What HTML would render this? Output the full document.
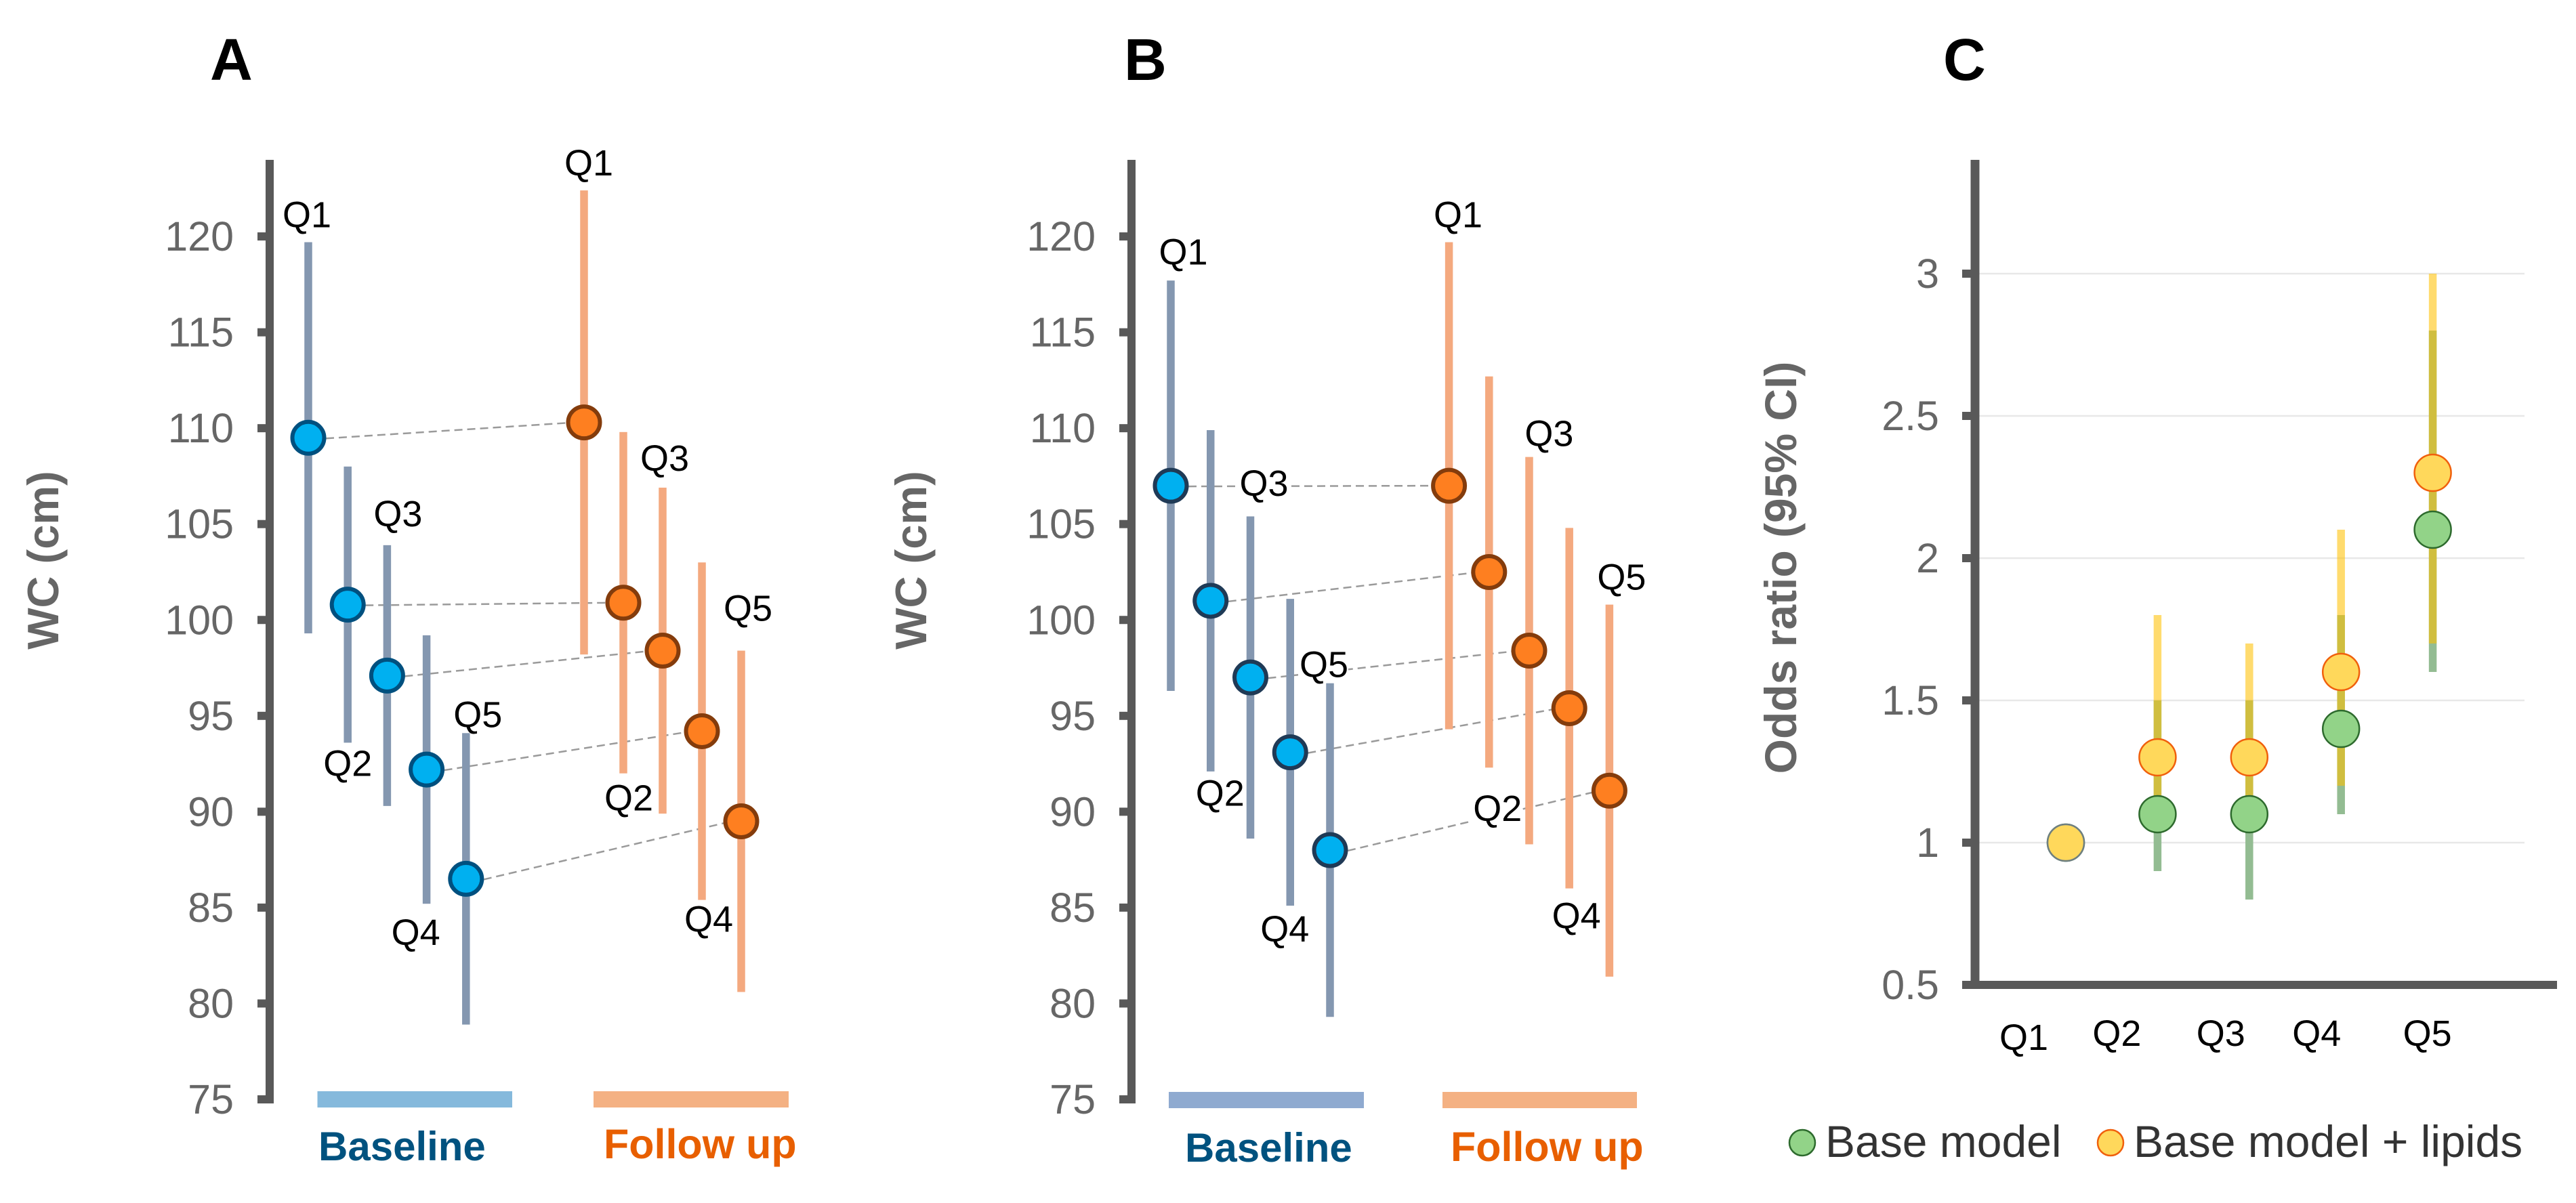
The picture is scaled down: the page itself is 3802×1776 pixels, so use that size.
<!DOCTYPE html>
<html lang="en">
<head>
<meta charset="utf-8">
<title>WC and odds ratio panels</title>
<style>
html,body{margin:0;padding:0;background:#fff;}
svg{display:block;font-family:"Liberation Sans",Arial,sans-serif;}
</style>
</head>
<body>
<svg id="figure" xmlns="http://www.w3.org/2000/svg" width="3802" height="1776" viewBox="0 0 3802 1776">
  <rect x="0" y="0" width="3802" height="1776" fill="#fff"/>

  <text x="310" y="118" font-size="87" font-weight="700" fill="#000">A</text>
  <text x="1659" y="118" font-size="87" font-weight="700" fill="#000">B</text>
  <text x="2868" y="118" font-size="87" font-weight="700" fill="#000">C</text>

  <text transform="translate(86 827) rotate(-90)" text-anchor="middle" font-size="65" font-weight="700" fill="#666">WC (cm)</text>
  <text transform="translate(1367 827) rotate(-90)" text-anchor="middle" font-size="65" font-weight="700" fill="#666">WC (cm)</text>
  <text transform="translate(2651 838) rotate(-90)" text-anchor="middle" font-size="66" font-weight="700" fill="#666">Odds ratio (95% CI)</text>

  <g id="panel-a"></g>
  <g id="panel-b"></g>
  <g id="panel-c"></g>

  <rect x="468.5" y="1611" width="287.5" height="24" fill="#85B9DC"/>
  <rect x="876" y="1611" width="288" height="24" fill="#F4B183"/>
  <text x="470" y="1713" font-size="60" font-weight="700" fill="#00527F">Baseline</text>
  <text x="891" y="1710" font-size="61" font-weight="700" fill="#E85F00">Follow up</text>

  <rect x="1725" y="1612" width="288" height="24" fill="#8FAAD0"/>
  <rect x="2129" y="1612" width="287" height="24" fill="#F4B183"/>
  <text x="1749" y="1715" font-size="60" font-weight="700" fill="#00527F">Baseline</text>
  <text x="2141" y="1714" font-size="61" font-weight="700" fill="#E85F00">Follow up</text>

  <g>
    <circle cx="2660" cy="1687" r="19" fill="#92D388" stroke="#2D6A2D" stroke-width="2.5"/>
    <text x="2694" y="1708" font-size="66" fill="#333">Base model</text>
    <circle cx="3115" cy="1687" r="19" fill="#FFD85B" stroke="#F0600C" stroke-width="2.5"/>
    <text x="3149" y="1708" font-size="66" fill="#333">Base model + lipids</text>
  </g>
</svg>

<script>
// ---- Shared category and tick values ----
const quintiles = ['Q1', 'Q2', 'Q3', 'Q4', 'Q5'];
const wcTicks = [75, 80, 85, 90, 95, 100, 105, 110, 115, 120];
const orTicks = [0.5, 1, 1.5, 2, 2.5, 3];
const orTickLabels = ['0.5', '1', '1.5', '2', '2.5', '3'];

// ---- Panel A values (WC, cm) ----
const aBaseMean = [109.5, 100.8, 97.1, 92.2, 86.5];
const aBaseLow = [99.3, 93.6, 90.3, 85.2, 78.9];
const aBaseHigh = [119.7, 108.0, 103.9, 99.2, 94.1];
const aFollowMean = [110.3, 100.9, 98.4, 94.2, 89.5];
const aFollowLow = [98.2, 92.0, 89.9, 85.4, 80.6];
const aFollowHigh = [122.4, 109.8, 106.9, 103.0, 98.4];

// ---- Panel B values (WC, cm) ----
const bBaseMean = [107.0, 101.0, 97.0, 93.1, 88.0];
const bBaseLow = [96.3, 92.1, 88.6, 85.1, 79.3];
const bBaseHigh = [117.7, 109.9, 105.4, 101.1, 96.7];
const bFollowMean = [107.0, 102.5, 98.4, 95.4, 91.1];
const bFollowLow = [94.3, 92.3, 88.3, 86.0, 81.4];
const bFollowHigh = [119.7, 112.7, 108.5, 104.8, 100.8];

// ---- Panel C values (odds ratio) ----
const cBaseOr = [1, 1.1, 1.1, 1.4, 2.1];
const cBaseLow = [1, 0.9, 0.8, 1.1, 1.6];
const cBaseHigh = [1, 1.5, 1.5, 1.8, 2.8];
const cLipidOr = [1, 1.3, 1.3, 1.6, 2.3];
const cLipidLow = [1, 1.1, 1.1, 1.2, 1.7];
const cLipidHigh = [1, 1.8, 1.7, 2.1, 3.0];

const SVG_NS = 'http://www.w3.org/2000/svg';
const AXIS_COLOR = '#595959';
const TICK_COLOR = '#666666';

function make(parent, tag, attrs, text) {
  const el = document.createElementNS(SVG_NS, tag);
  for (const k in attrs) el.setAttribute(k, attrs[k]);
  if (text !== undefined) el.textContent = text;
  parent.appendChild(el);
  return el;
}

// Axis functions
function yWC(v) { return 1623 - (v - 75) * 28.31; }
function yOR(v) { return 1454 - (v - 0.5) * 420; }

function drawWcPanel(cfg) {
  const root = document.getElementById(cfg.id);
  const xBase = function (i) { return cfg.baseX0 + i * cfg.baseStep; };
  const xFollow = function (i) { return cfg.followX0 + i * cfg.followStep; };

  // axis line
  const axis = make(root, 'rect', { x: cfg.axisX - 6, y: 236, width: 12, height: 1393, fill: AXIS_COLOR });
  
  

  // ticks + labels
  wcTicks.forEach(function (t) {
    const tick = make(root, 'rect', { x: cfg.axisX - 18, y: yWC(t) - 6, width: 13, height: 12, fill: AXIS_COLOR });
    
    
    const lab = make(root, 'text', { x: cfg.axisX - 53, y: yWC(t) + 21, 'text-anchor': 'end', 'font-size': 61, fill: TICK_COLOR }, String(t));
    
    
  });

  // connectors
  quintiles.forEach(function (q, i) {
    const c = make(root, 'line', {
      x1: xBase(i) + 26, y1: yWC(cfg.baseMean[i]) + 1,
      x2: xFollow(i) - 14, y2: yWC(cfg.followMean[i]),
      stroke: '#9a9a9a', 'stroke-width': 2.5, 'stroke-dasharray': '12 7'
    });
    
    
  });

  // white patches that sit behind some quintile labels
  cfg.patched.forEach(function (p) {
    const anchorX = p.series === 'base' ? xBase(p.i) : xFollow(p.i);
    const offs = p.series === 'base' ? cfg.baseLabelOffset[p.i] : cfg.followLabelOffset[p.i];
    const endVal = p.series === 'base'
      ? (p.i % 2 === 0 ? cfg.baseHigh[p.i] : cfg.baseLow[p.i])
      : (p.i % 2 === 0 ? cfg.followHigh[p.i] : cfg.followLow[p.i]);
    const patch = make(root, 'rect', { x: anchorX + offs[0] - 2, y: yWC(endVal) + offs[1] - 40, width: 74, height: 44, fill: '#fff' });
    
    
  });

  // CI bars
  quintiles.forEach(function (q, i) {
    const b = make(root, 'rect', { x: xBase(i) - 5.75, y: yWC(cfg.baseHigh[i]), width: 11.5, height: yWC(cfg.baseLow[i]) - yWC(cfg.baseHigh[i]), fill: '#8497B0' });
    
    
  });
  quintiles.forEach(function (q, i) {
    const b = make(root, 'rect', { x: xFollow(i) - 5.75, y: yWC(cfg.followHigh[i]), width: 11.5, height: yWC(cfg.followLow[i]) - yWC(cfg.followHigh[i]), fill: '#F4A97F' });
    
    
  });

  // mean points
  quintiles.forEach(function (q, i) {
    const p = make(root, 'circle', { cx: xBase(i), cy: yWC(cfg.baseMean[i]), r: 23.5, fill: '#00B0F0', stroke: cfg.baseStroke, 'stroke-width': 6 });
    
    
  });
  quintiles.forEach(function (q, i) {
    const p = make(root, 'circle', { cx: xFollow(i), cy: yWC(cfg.followMean[i]), r: 23.5, fill: '#FE7F20', stroke: '#843C0C', 'stroke-width': 6 });
    
    
  });

  // quintile labels: odd quintiles sit relative to the upper CI end, even ones to the lower end
  quintiles.forEach(function (q, i) {
    const endB = i % 2 === 0 ? cfg.baseHigh[i] : cfg.baseLow[i];
    const lb = make(root, 'text', { x: xBase(i) + cfg.baseLabelOffset[i][0], y: yWC(endB) + cfg.baseLabelOffset[i][1], 'font-size': 54, fill: '#000' }, q);
    
    
    const endF = i % 2 === 0 ? cfg.followHigh[i] : cfg.followLow[i];
    const lf = make(root, 'text', { x: xFollow(i) + cfg.followLabelOffset[i][0], y: yWC(endF) + cfg.followLabelOffset[i][1], 'font-size': 54, fill: '#000' }, q);
    
    
  });
}

drawWcPanel({
  id: 'panel-a',
  axisX: 398,
  baseX0: 455, baseStep: 58.2,
  followX0: 862, followStep: 58,
  baseMean: aBaseMean, baseLow: aBaseLow, baseHigh: aBaseHigh,
  followMean: aFollowMean, followLow: aFollowLow, followHigh: aFollowHigh,
  baseStroke: '#00507F',
  baseLabelOffset: [[-38, -22], [-36, 49], [-20, -28], [-52, 61], [-18.5, -9]],
  followLabelOffset: [[-29, -22], [-28, 55], [-33, -25], [-26, 47], [-26, -44]],
  patched: []
});

drawWcPanel({
  id: 'panel-b',
  axisX: 1670,
  baseX0: 1728, baseStep: 58.75,
  followX0: 2138.6, followStep: 59.2,
  baseMean: bBaseMean, baseLow: bBaseLow, baseHigh: bBaseHigh,
  followMean: bFollowMean, followLow: bFollowLow, followHigh: bFollowHigh,
  baseStroke: '#1F3A56',
  baseLabelOffset: [[-17.5, -23.5], [-22, 50.6], [-16, -30.5], [-44, 53], [-45, -9]],
  followLabelOffset: [[-22.6, -22], [-23.5, 79], [-6.6, -16], [-25.6, 59], [-18, -22]],
  patched: [
    { series: 'base', i: 2 },
    { series: 'base', i: 4 },
    { series: 'follow', i: 1 }
  ]
});

(function drawOrPanel() {
  const root = document.getElementById('panel-c');
  const axisX = 2915;
  const xQ = function (i) { return 3049 + i * 135.4; };
  const labelDx = [-98, -96, -78, -72, -44];
  const labelY = [1550, 1544, 1544, 1544, 1544];

  // gridlines (skipped at the baseline)
  orTicks.forEach(function (t, i) {
    if (t === orTicks[0]) return;
    const g = make(root, 'line', { x1: axisX + 6, x2: 3726, y1: yOR(t), y2: yOR(t), stroke: '#E8E8E8', 'stroke-width': 2.5 });
    
    
  });

  const yAxis = make(root, 'rect', { x: axisX - 6.5, y: 236, width: 13, height: 1224, fill: AXIS_COLOR });
  
  
  const xAxis = make(root, 'rect', { x: axisX - 6.5, y: yOR(0.5) - 6, width: 3774 - axisX + 6.5, height: 12, fill: AXIS_COLOR });
  
  

  orTicks.forEach(function (t, i) {
    const tick = make(root, 'rect', { x: axisX - 19, y: yOR(t) - 6, width: 13, height: 12, fill: AXIS_COLOR });
    
    
    const lab = make(root, 'text', { x: 2862, y: yOR(t) + 21, 'text-anchor': 'end', 'font-size': 61, fill: TICK_COLOR }, orTickLabels[i]);
    
    
  });

  // CI bars (green first; translucent amber on top gives the overlap colour)
  quintiles.forEach(function (q, i) {
    if (cBaseHigh[i] === cBaseLow[i]) return;
    const b = make(root, 'rect', { x: xQ(i) - 5.75, y: yOR(cBaseHigh[i]), width: 11.5, height: yOR(cBaseLow[i]) - yOR(cBaseHigh[i]), fill: '#93BC92' });
    
    
  });
  quintiles.forEach(function (q, i) {
    if (cLipidHigh[i] === cLipidLow[i]) return;
    const b = make(root, 'rect', { x: xQ(i) - 5.75, y: yOR(cLipidHigh[i]), width: 11.5, height: yOR(cLipidLow[i]) - yOR(cLipidHigh[i]), fill: '#FFBF00', 'fill-opacity': 0.57 });
    
    
  });

  // points: Q1 is the shared reference with a muted outline
  quintiles.forEach(function (q, i) {
    const p = make(root, 'circle', { cx: xQ(i), cy: yOR(cBaseOr[i]), r: 27, fill: '#92D388', stroke: '#2D6A2D', 'stroke-width': 2.5 });
    
    
  });
  quintiles.forEach(function (q, i) {
    const isRef = cLipidOr[i] === cBaseOr[i];
    const p = make(root, 'circle', { cx: xQ(i), cy: yOR(cLipidOr[i]), r: 27, fill: '#FFD85B', stroke: isRef ? '#6F7F80' : '#F0600C', 'stroke-width': 2.5 });
    
    
  });

  quintiles.forEach(function (q, i) {
    const lab = make(root, 'text', { x: xQ(i) + labelDx[i], y: labelY[i], 'font-size': 54, fill: '#000' }, q);
    
    
  });
})();
</script>
</body>
</html>
